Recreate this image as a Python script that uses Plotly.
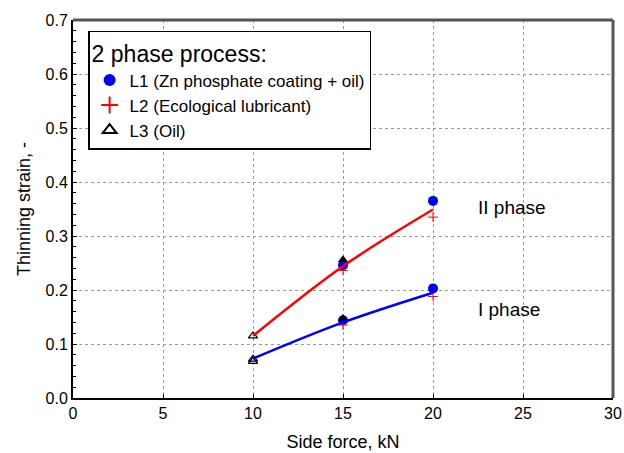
import plotly.graph_objects as go

# Side force levels, kN
force = [15, 20]
force_fit = [10, 15, 20]

# L1 (Zn phosphate coating + oil)
l1_phase2 = [0.246, 0.365]
l1_phase1 = [0.144, 0.203]
# L2 (Ecological lubricant)
l2_phase2 = [0.236, 0.335]
l2_phase1 = [0.135, 0.188]
# L3 (Oil)
l3_open_x = [10, 10, 10]
l3_open_y = [0.115, 0.072, 0.068]
l3_fill_x = [15, 15]
l3_fill_y = [0.256, 0.147]

# Trend curves for the two phases
fit_phase2 = [0.115, 0.244, 0.349]
fit_phase1 = [0.073, 0.140, 0.195]

FONT = "Liberation Sans, Arial, sans-serif"

fig = go.Figure()

fig.add_trace(go.Scatter(
    x=force + force, y=l1_phase2 + l1_phase1, mode="markers",
    name="L1 (Zn phosphate coating + oil)",
    marker=dict(symbol="circle", size=10, color="#0000ff"),
))
fig.add_trace(go.Scatter(
    x=force + force, y=l2_phase2 + l2_phase1, mode="markers",
    name="L2 (Ecological lubricant)",
    marker=dict(symbol="cross-thin", size=7, line=dict(color="#ff0000", width=1)),
))
fig.add_trace(go.Scatter(
    x=l3_open_x, y=l3_open_y, mode="markers", name="L3 (Oil)",
    marker=dict(symbol="triangle-up-open", size=8, color="black", line=dict(width=1.2)),
))
fig.add_trace(go.Scatter(
    x=l3_fill_x, y=l3_fill_y, mode="markers", showlegend=False,
    marker=dict(symbol="triangle-up", size=9, color="black"),
))

fig.add_trace(go.Scatter(
    x=force_fit, y=fit_phase2, mode="lines", showlegend=False,
    line=dict(color="#ff0000", width=2.5, shape="spline"),
))
fig.add_trace(go.Scatter(
    x=force_fit, y=fit_phase1, mode="lines", showlegend=False,
    line=dict(color="#0000ff", width=2.5, shape="spline"),
))

fig.add_annotation(x=22.4, y=0.352, text="II phase", showarrow=False,
                   xanchor="left", yanchor="middle",
                   font=dict(family=FONT, size=19, color="black"))
fig.add_annotation(x=22.4, y=0.164, text="I phase", showarrow=False,
                   xanchor="left", yanchor="middle",
                   font=dict(family=FONT, size=19, color="black"))

# Top and right frame lines
fig.add_shape(type="line", xref="paper", yref="paper", x0=0, x1=1, y0=1, y1=1,
              line=dict(color="#555555", width=3))
fig.add_shape(type="line", xref="paper", yref="paper", x0=1, x1=1, y0=0, y1=1,
              line=dict(color="#555555", width=3))

fig.update_layout(
    width=624, height=453,
    margin=dict(l=73, r=11, t=20, b=55, autoexpand=False),
    paper_bgcolor="white", plot_bgcolor="white",
    font=dict(family=FONT, color="black"),
    showlegend=True,
    legend=dict(
        x=0.028, y=0.971, xanchor="left", yanchor="top",
        bgcolor="white", bordercolor="black", borderwidth=1.5,
        font=dict(family=FONT, size=17, color="black"),
        title=dict(text="2 phase process:", font=dict(family=FONT, size=23)),
        tracegroupgap=0, itemsizing="constant",
    ),
    xaxis=dict(
        range=[0, 30], dtick=5, tick0=0, automargin=False,
        showgrid=True, gridcolor="#999999", griddash="dot", gridwidth=1,
        showline=True, linecolor="black", linewidth=2,
        ticks="inside", ticklen=4, tickcolor="black",
        tickfont=dict(family=FONT, size=16),
        zeroline=False,
        title=dict(text="Side force, kN", font=dict(family=FONT, size=18), standoff=14),
    ),
    yaxis=dict(
        range=[0, 0.7], dtick=0.1, tick0=0, tickformat=".1f", automargin=False,
        showgrid=True, gridcolor="#999999", griddash="dot", gridwidth=1,
        showline=True, linecolor="black", linewidth=2,
        ticks="inside", ticklen=4, tickcolor="black",
        minor=dict(dtick=0.02, ticks="inside", ticklen=3, tickcolor="black", showgrid=False),
        tickfont=dict(family=FONT, size=16),
        zeroline=False,
        title=dict(text="Thinning strain, -", font=dict(family=FONT, size=18), standoff=10),
    ),
)

fig.write_html("out.html")
